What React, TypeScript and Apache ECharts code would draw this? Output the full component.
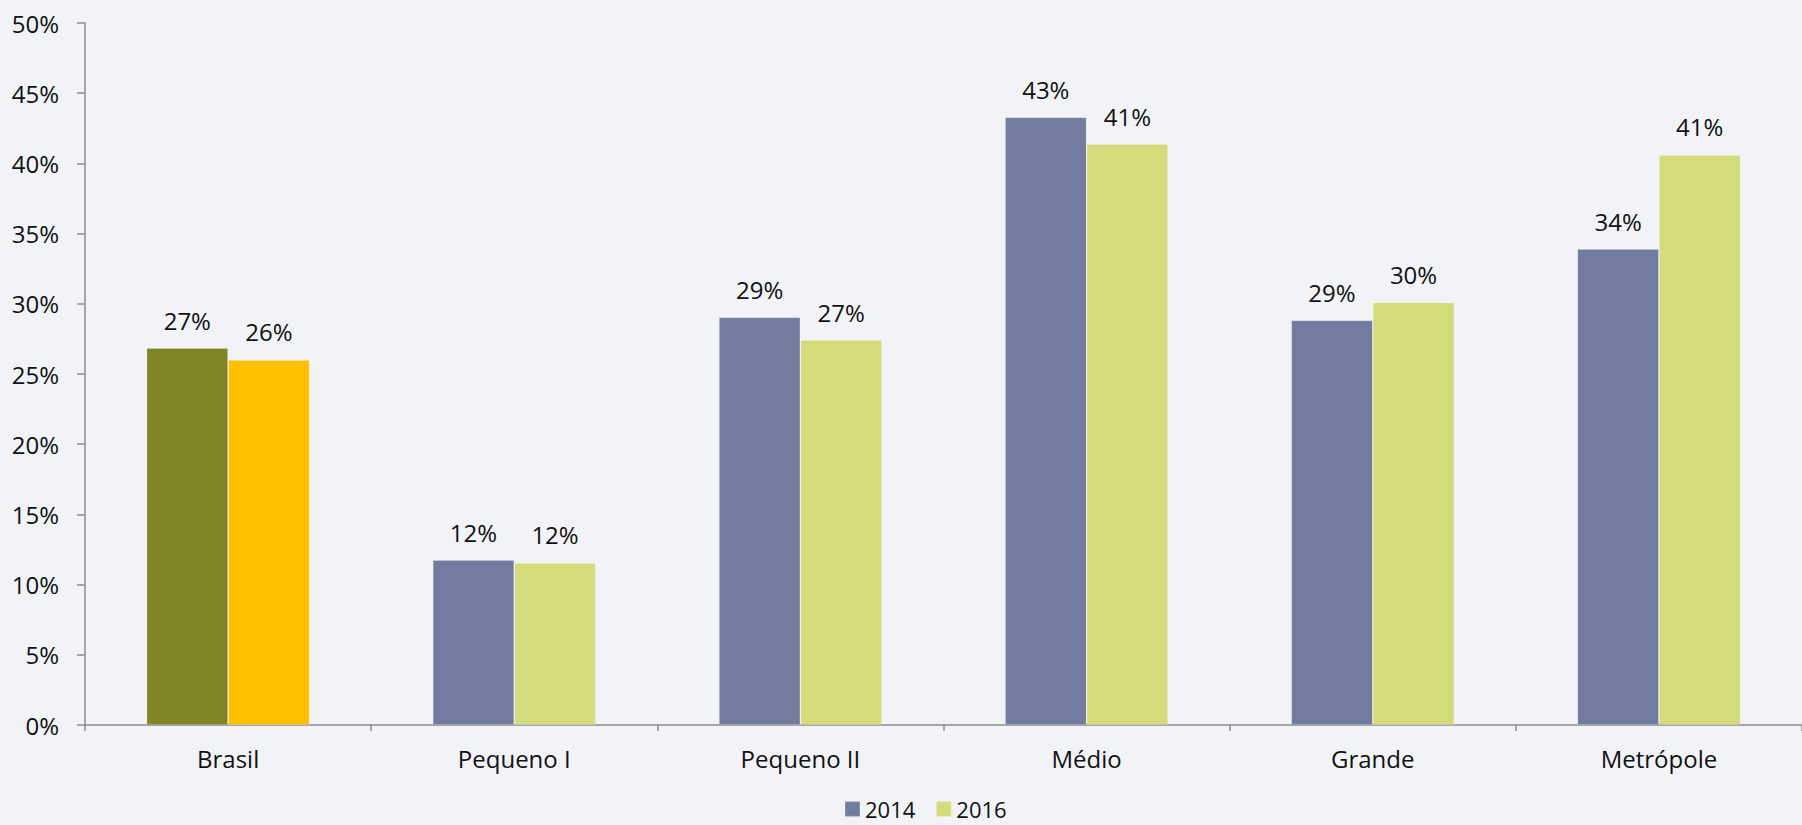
import React, { useEffect, useRef } from "react";
import * as echarts from "echarts";

const categories = ["Brasil", "Pequeno I", "Pequeno II", "Médio", "Grande", "Metrópole"];
const seriesNames = ["2014", "2016"];
const values2014 = [26.85, 11.75, 29.04, 43.28, 28.82, 33.9];
const values2016 = [26.0, 11.54, 27.42, 41.38, 30.1, 40.6];
const seriesColors = ["#727BA0", "#D4DB7B"];
const brasilColors = ["#808626", "#FFC000"];
const yTicks = { min: 0, max: 50, interval: 5 };

const FONT = "'Open Sans', 'Noto Sans', sans-serif";

export default function App() {
  const ref = useRef<HTMLDivElement>(null);
  useEffect(() => {
    document.body.style.margin = "0";
    if (!ref.current) return;
    const chart = echarts.init(ref.current, undefined, { renderer: "svg" });
    const makeData = (vals: number[], si: number) =>
      vals.map((v, i) =>
        i === 0 ? { value: v, itemStyle: { color: brasilColors[si] } } : { value: v }
      );
    chart.setOption({
      animation: false,
      backgroundColor: "#F2F3F7",
      textStyle: { fontFamily: FONT },
      grid: { left: 85, top: 23, width: 1727, bottom: 100, containLabel: false },
      legend: {
        data: seriesNames,
        left: 839,
        top: 792,
        itemWidth: 15,
        itemHeight: 15,
        itemGap: 20,
        icon: "rect",
        textStyle: { fontSize: 22, color: "#111", fontFamily: FONT, lineHeight: 24 },
      },
      xAxis: {
        type: "category",
        data: categories,
        axisLine: { lineStyle: { color: "#8C8C8C", width: 1.5 } },
        axisTick: { show: true, length: 6, lineStyle: { color: "#8C8C8C", width: 1.5 } },
        axisLabel: { fontSize: 24, color: "#111", margin: 21, fontFamily: FONT },
      },
      yAxis: {
        type: "value",
        min: yTicks.min,
        max: yTicks.max,
        interval: yTicks.interval,
        axisLine: { show: true, lineStyle: { color: "#8C8C8C", width: 1.5 } },
        axisTick: { show: true, length: 8, lineStyle: { color: "#8C8C8C", width: 1.5 } },
        splitLine: { show: false },
        axisLabel: {
          fontSize: 24,
          color: "#111",
          margin: 26,
          fontFamily: FONT,
          formatter: "{value}%",
        },
      },
      series: [values2014, values2016].map((vals, si) => ({
        name: seriesNames[si],
        type: "bar",
        data: makeData(vals, si),
        barGap: "0%",
        barCategoryGap: "43%",
        itemStyle: {
          color: seriesColors[si],
          borderColor: "rgba(255,255,255,0.15)",
          borderWidth: 1,
        },
        label: {
          show: true,
          position: "top",
          distance: 16,
          fontSize: 24,
          color: "#111",
          fontFamily: FONT,
          formatter: (p: any) => Math.round(p.value) + "%",
        },
      })),
    });
    return () => chart.dispose();
  }, []);
  return <div ref={ref} style={{ width: 1802, height: 825 }} />;
}
